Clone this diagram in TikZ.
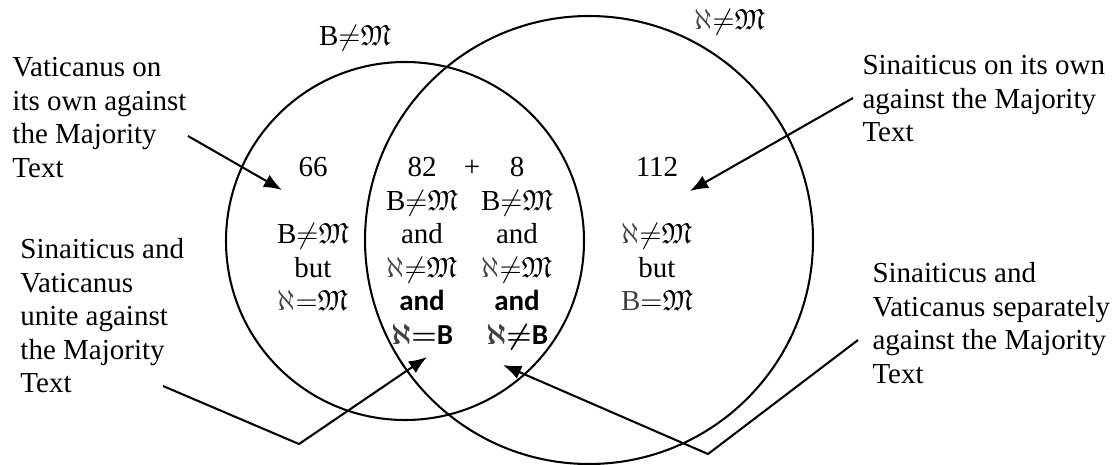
\documentclass[tikz,border=0pt]{standalone}
\usepackage{amssymb}
\usepackage{fontspec}
\setmainfont{Liberation Serif}
\newfontfamily\sansbold{Carlito}
\usetikzlibrary{arrows.meta}
\definecolor{alephGray}{gray}{0.25}
\newcommand{\alg}{\textcolor{alephGray}{$\aleph$}}
\newcommand{\Mj}{\mathfrak{M}}

\begin{document}
\begin{tikzpicture}[x=0.41379pt, y=-0.41379pt,
    vennline/.style={line width=0.85pt},
    labeltext/.style={inner sep=0pt, align=left, anchor=north west, font=\fontsize{12}{13.86}\selectfont},
    counttext/.style={inner sep=0pt, align=center, anchor=north, font=\fontsize{12}{13.86}\selectfont},
    pointer/.style={line width=0.85pt, -{Latex[length=7.5pt,width=5.8pt]}}]
    \useasboundingbox (0,0) rectangle (1117,464);

    % Circles
    \draw[vennline] (405,241) circle[radius=179];
    \draw[vennline] (589,240) circle[radius=224];
    \node[counttext, anchor=center] (topB) at (355,38) {B${\neq}\Mj$};
    \node[counttext, anchor=center] (topA) at (730,22) {\alg${\neq}\Mj$};

    % Counts inside
    \node[counttext] (onlyB) at (313,157) {66\\[13.86pt] B${\neq}\Mj$\\ but\\ \alg${=}\Mj$};
    \node[counttext] (bothEq) at (422,157) {82\\ B${\neq}\Mj$\\ and\\ \alg${\neq}\Mj$\\
        {\sansbold\bfseries and}\\ {\boldmath\alg${=}$}{\sansbold\bfseries B}};
    \node[counttext, anchor=base] (plus) at (472,176) {+};
    \node[counttext] (bothNeq) at (517,157) {8\\ B${\neq}\Mj$\\ and\\ \alg${\neq}\Mj$\\
        {\sansbold\bfseries and}\\ {\boldmath\alg${\neq}$}{\sansbold\bfseries B}};
    \node[counttext] (onlyA) at (657,157) {112\\[13.86pt] \alg${\neq}\Mj$\\ but\\ \textcolor{alephGray}{B}${=}\Mj$};

    % Labels outside
    \node[labeltext] (vatOwn) at (12,57) {Vaticanus on\\its own against\\the Majority\\Text};
    \node[labeltext] (unite) at (20,238) {Sinaiticus and\\Vaticanus\\unite against\\the Majority\\Text};
    \node[labeltext] (sinOwn) at (862,55) {Sinaiticus on its own\\against the Majority\\Text};
    \node[labeltext] (separate) at (872,262) {Sinaiticus and\\Vaticanus separately\\against the Majority\\Text};

    % Pointers
    \coordinate (vatStart) at (188,136);
    \coordinate (vatTip) at (282,190);
    \coordinate (sinStart) at (853,98);
    \coordinate (sinTip) at (690,191);
    \coordinate (uniStart) at (163,386);
    \coordinate (uniBend) at (299,444);
    \coordinate (uniTip) at (427,357);
    \coordinate (sepStart) at (858,340);
    \coordinate (sepBend) at (708,454);
    \coordinate (sepTip) at (503,365);
    \draw[pointer] (vatStart) -- (vatTip);
    \draw[pointer] (sinStart) -- (sinTip);
    \draw[pointer] (uniStart) -- (uniBend) -- (uniTip);
    \draw[pointer] (sepStart) -- (sepBend) -- (sepTip);
\end{tikzpicture}
\end{document}
